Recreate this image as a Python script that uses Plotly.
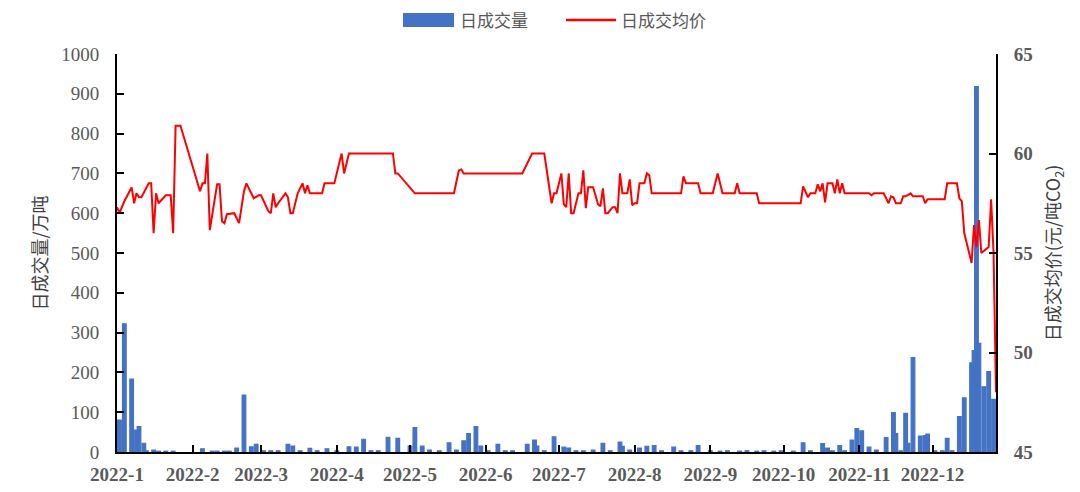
import plotly.graph_objects as go

# ---- Daily average price (元/吨CO2) ----
price_dates = [
    "2022-01-01", "2022-01-02", "2022-01-04", "2022-01-07", "2022-01-08", "2022-01-09", "2022-01-10",
    "2022-01-11", "2022-01-14", "2022-01-15", "2022-01-16", "2022-01-17", "2022-01-18", "2022-01-21",
    "2022-01-23", "2022-01-24", "2022-01-25", "2022-01-27", "2022-02-04", "2022-02-05", "2022-02-06",
    "2022-02-07", "2022-02-08", "2022-02-11", "2022-02-12", "2022-02-13", "2022-02-14", "2022-02-15",
    "2022-02-18", "2022-02-20", "2022-02-22", "2022-02-23", "2022-02-26", "2022-02-28", "2022-03-01",
    "2022-03-04", "2022-03-05", "2022-03-06", "2022-03-07", "2022-03-08", "2022-03-11", "2022-03-12",
    "2022-03-13", "2022-03-14", "2022-03-16", "2022-03-18", "2022-03-19", "2022-03-20", "2022-03-21",
    "2022-03-26", "2022-03-27", "2022-03-31", "2022-04-03", "2022-04-04", "2022-04-06", "2022-04-24",
    "2022-04-25", "2022-04-26", "2022-05-03", "2022-05-19", "2022-05-21", "2022-05-22", "2022-05-23",
    "2022-06-16", "2022-06-20", "2022-06-25", "2022-06-28", "2022-06-29", "2022-06-30", "2022-07-02",
    "2022-07-03", "2022-07-04", "2022-07-05", "2022-07-06", "2022-07-07", "2022-07-09", "2022-07-10",
    "2022-07-11", "2022-07-12", "2022-07-13", "2022-07-15", "2022-07-17", "2022-07-18", "2022-07-19",
    "2022-07-20", "2022-07-21", "2022-07-23", "2022-07-24", "2022-07-25", "2022-07-26", "2022-07-27",
    "2022-07-29", "2022-07-30", "2022-07-31", "2022-08-01", "2022-08-02", "2022-08-03", "2022-08-05",
    "2022-08-06", "2022-08-07", "2022-08-08", "2022-08-20", "2022-08-21", "2022-08-22", "2022-08-27",
    "2022-08-28", "2022-09-02", "2022-09-04", "2022-09-06", "2022-09-11", "2022-09-12", "2022-09-13",
    "2022-09-20", "2022-09-21", "2022-10-08", "2022-10-09", "2022-10-11", "2022-10-12", "2022-10-14",
    "2022-10-15", "2022-10-16", "2022-10-17", "2022-10-18", "2022-10-19", "2022-10-21", "2022-10-22",
    "2022-10-23", "2022-10-24", "2022-10-25", "2022-10-26", "2022-11-05", "2022-11-06", "2022-11-07",
    "2022-11-11", "2022-11-13", "2022-11-14", "2022-11-15", "2022-11-16", "2022-11-18", "2022-11-19",
    "2022-11-20", "2022-11-22", "2022-11-23", "2022-11-27", "2022-11-28", "2022-11-29", "2022-12-06",
    "2022-12-07", "2022-12-11", "2022-12-12", "2022-12-13", "2022-12-14", "2022-12-17", "2022-12-18",
    "2022-12-19", "2022-12-20", "2022-12-21", "2022-12-24", "2022-12-25", "2022-12-26", "2022-12-27",
]
price_values = [
    57.3, 57.0, 57.6, 58.3, 57.5, 58.0, 57.8,
    57.8, 58.5, 58.5, 56.0, 58.0, 57.5, 57.9,
    57.9, 56.0, 61.4, 61.4, 58.1, 58.5, 58.5,
    60.0, 56.15, 58.45, 58.45, 56.6, 56.5, 56.95,
    57.0, 56.5, 58.1, 58.5, 57.75, 57.9, 57.9,
    57.1, 57.0, 58.0, 57.3, 57.5, 58.0, 57.8,
    57.0, 57.0, 58.0, 58.5, 58.0, 58.4, 58.0,
    58.0, 58.5, 58.5, 60.0, 59.0, 60.0, 60.0,
    59.0, 59.0, 58.0, 58.0, 59.15, 59.2, 59.0,
    59.0, 60.0, 60.0, 57.5, 58.0, 58.0, 59.0,
    57.45, 57.3, 59.0, 57.0, 57.0, 58.0, 58.0,
    59.15, 57.25, 58.3, 58.3, 57.45, 57.35, 58.25,
    57.0, 57.0, 57.3, 57.3, 57.0, 59.0, 58.0,
    58.0, 58.7, 57.4, 57.5, 57.5, 58.5, 58.5,
    59.0, 58.9, 58.0, 58.0, 58.85, 58.5, 58.5,
    58.0, 58.0, 59.0, 58.0, 58.0, 58.5, 58.0,
    58.0, 57.5, 57.5, 58.35, 57.8, 58.0, 58.0,
    58.45, 58.1, 58.5, 57.55, 58.5, 58.5, 58.0,
    58.7, 58.0, 58.5, 58.0, 58.0, 57.9, 58.0,
    58.0, 57.5, 57.85, 57.8, 57.5, 57.5, 57.85,
    57.85, 58.0, 57.85, 57.85, 57.5, 57.7, 57.7,
    58.5, 58.5, 57.75, 57.6, 56.0, 54.5, 56.4,
    55.3, 56.65, 55.0, 55.3, 57.7, 55.0, 48.0,
]

# ---- Daily volume (万吨) ----
volume_dates = [
    "2022-01-02", "2022-01-04", "2022-01-07", "2022-01-09", "2022-01-10", "2022-01-12", "2022-01-13",
    "2022-01-16", "2022-01-18", "2022-01-21", "2022-01-24", "2022-02-05", "2022-02-09", "2022-02-11",
    "2022-02-14", "2022-02-16", "2022-02-19", "2022-02-22", "2022-02-25", "2022-02-27", "2022-03-02",
    "2022-03-05", "2022-03-08", "2022-03-12", "2022-03-14", "2022-03-17", "2022-03-21", "2022-03-24",
    "2022-03-28", "2022-04-01", "2022-04-06", "2022-04-09", "2022-04-12", "2022-04-15", "2022-04-18",
    "2022-04-22", "2022-04-26", "2022-05-01", "2022-05-03", "2022-05-06", "2022-05-09", "2022-05-13",
    "2022-05-17", "2022-05-20", "2022-05-23", "2022-05-25", "2022-05-28", "2022-05-30", "2022-06-02",
    "2022-06-06", "2022-06-09", "2022-06-12", "2022-06-18", "2022-06-21", "2022-06-22", "2022-06-25",
    "2022-06-29", "2022-07-03", "2022-07-05", "2022-07-08", "2022-07-11", "2022-07-15", "2022-07-19",
    "2022-07-22", "2022-07-26", "2022-07-27", "2022-07-30", "2022-08-03", "2022-08-06", "2022-08-09",
    "2022-08-12", "2022-08-17", "2022-08-20", "2022-08-24", "2022-08-27", "2022-09-01", "2022-09-05",
    "2022-09-08", "2022-09-13", "2022-09-16", "2022-09-20", "2022-09-23", "2022-09-27", "2022-09-30",
    "2022-10-05", "2022-10-09", "2022-10-12", "2022-10-17", "2022-10-19", "2022-10-21", "2022-10-24",
    "2022-10-26", "2022-10-29", "2022-10-31", "2022-11-02", "2022-11-05", "2022-11-08", "2022-11-12",
    "2022-11-15", "2022-11-16", "2022-11-18", "2022-11-20", "2022-11-21", "2022-11-23", "2022-11-26",
    "2022-11-28", "2022-11-29", "2022-12-02", "2022-12-05", "2022-12-07", "2022-12-09", "2022-12-12",
    "2022-12-14", "2022-12-17", "2022-12-18", "2022-12-19", "2022-12-20", "2022-12-22", "2022-12-24",
    "2022-12-26",
]
volume_values = [
    80, 322, 183, 55, 64, 22, 3,
    5, 2, 2, 2, 8, 2, 2,
    2, 2, 10, 143, 13, 19, 3,
    3, 3, 19, 15, 3, 9, 3,
    8, 3, 13, 12, 32, 3, 3,
    37, 34, 15, 61, 15, 5, 3,
    23, 5, 28, 46, 64, 15, 3,
    19, 3, 3, 19, 30, 15, 3,
    38, 12, 10, 3, 3, 5, 22,
    3, 25, 14, 5, 10, 14, 16,
    3, 12, 3, 3, 16, 3, 2,
    3, 2, 3, 2, 3, 2, 3,
    2, 23, 3, 21, 10, 3, 16,
    3, 30, 59, 53, 12, 5, 36,
    99, 46, 3, 97, 22, 237, 40,
    41, 45, 3, 3, 34, 3, 89,
    136, 224, 255, 918, 273, 164, 202,
    132,
]

left_ticks = [0, 100, 200, 300, 400, 500, 600, 700, 800, 900, 1000]
right_ticks = [45, 50, 55, 60, 65]
series_names = ["日成交量", "日成交均价"]

BLUE = "#4472C4"
RED = "#FF0000"
GREY = "#595959"
SERIF = "Liberation Serif, Times New Roman, serif"
CJK = "Noto Sans CJK SC, sans-serif"
DAY_MS = 86400000

fig = go.Figure()
fig.add_trace(go.Bar(
    x=volume_dates, y=volume_values, name=series_names[0],
    marker=dict(color=BLUE, line=dict(color=BLUE, width=1.2)),
    width=1.5 * DAY_MS, showlegend=False,
))
fig.add_trace(go.Scatter(
    x=price_dates, y=price_values, name=series_names[1], yaxis="y2",
    mode="lines", line=dict(color=RED, width=2), showlegend=False,
))

# Legend drawn in paper coordinates (wide swatches like the original)
PW, PH = 879.0, 398.0
def px(x):
    return (x - 117) / PW
def py(y):
    return (452 - y) / PH

LEG_Y = 20
fig.add_shape(type="rect", xref="paper", yref="paper",
              x0=px(403), x1=px(454), y0=py(LEG_Y + 7), y1=py(LEG_Y - 7),
              fillcolor=BLUE, line=dict(color=BLUE, width=0))
fig.add_annotation(xref="paper", yref="paper", x=px(458), y=py(LEG_Y), xanchor="left", yanchor="middle",
                   text=series_names[0], showarrow=False, font=dict(family=CJK, size=17, color=GREY))
fig.add_shape(type="line", xref="paper", yref="paper",
              x0=px(566), x1=px(616), y0=py(LEG_Y), y1=py(LEG_Y),
              line=dict(color=RED, width=2.5))
fig.add_annotation(xref="paper", yref="paper", x=px(619), y=py(LEG_Y), xanchor="left", yanchor="middle",
                   text=series_names[1], showarrow=False, font=dict(family=CJK, size=17, color=GREY))

fig.update_layout(
    width=1064, height=476,
    margin=dict(l=109, r=76, t=46, b=32, autoexpand=False),
    paper_bgcolor="white", plot_bgcolor="white",
    showlegend=False,
    xaxis=dict(
        type="date", range=["2022-01-01", "2022-12-27"],
        tick0="2022-01-01", dtick="M1", tickformat="%Y-%-m",
        ticks="inside", ticklen=7, tickwidth=2, tickcolor="black",
        showline=True, linecolor="black", linewidth=2,
        showgrid=False, zeroline=False, automargin=False,
        tickfont=dict(family=SERIF, size=19, color=GREY, weight="bold"),
        ticklabelstandoff=4,
    ),
    yaxis=dict(
        range=[0, 1000], tickvals=left_ticks,
        ticks="inside", ticklen=7, tickwidth=2, tickcolor="black",
        showline=True, linecolor="black", linewidth=2,
        showgrid=False, zeroline=False, automargin=False,
        tickfont=dict(family=SERIF, size=19, color=GREY),
        ticklabelstandoff=12,
        title=dict(text="日成交量/万吨", font=dict(family=CJK, size=18, color="#404040"), standoff=9),
    ),
    yaxis2=dict(
        overlaying="y", side="right", range=[45, 65], tickvals=right_ticks,
        ticks="inside", ticklen=7, tickwidth=2, tickcolor="black",
        showline=True, linecolor="black", linewidth=2,
        showgrid=False, zeroline=False, automargin=False,
        tickfont=dict(family=SERIF, size=19, color=GREY, weight="bold"),
        ticklabelstandoff=12,
        title=dict(text="日成交均价(元/吨CO<sub>2</sub>)", font=dict(family=CJK, size=18, color="#404040"), standoff=16),
    ),
)

fig.write_html("out.html")
